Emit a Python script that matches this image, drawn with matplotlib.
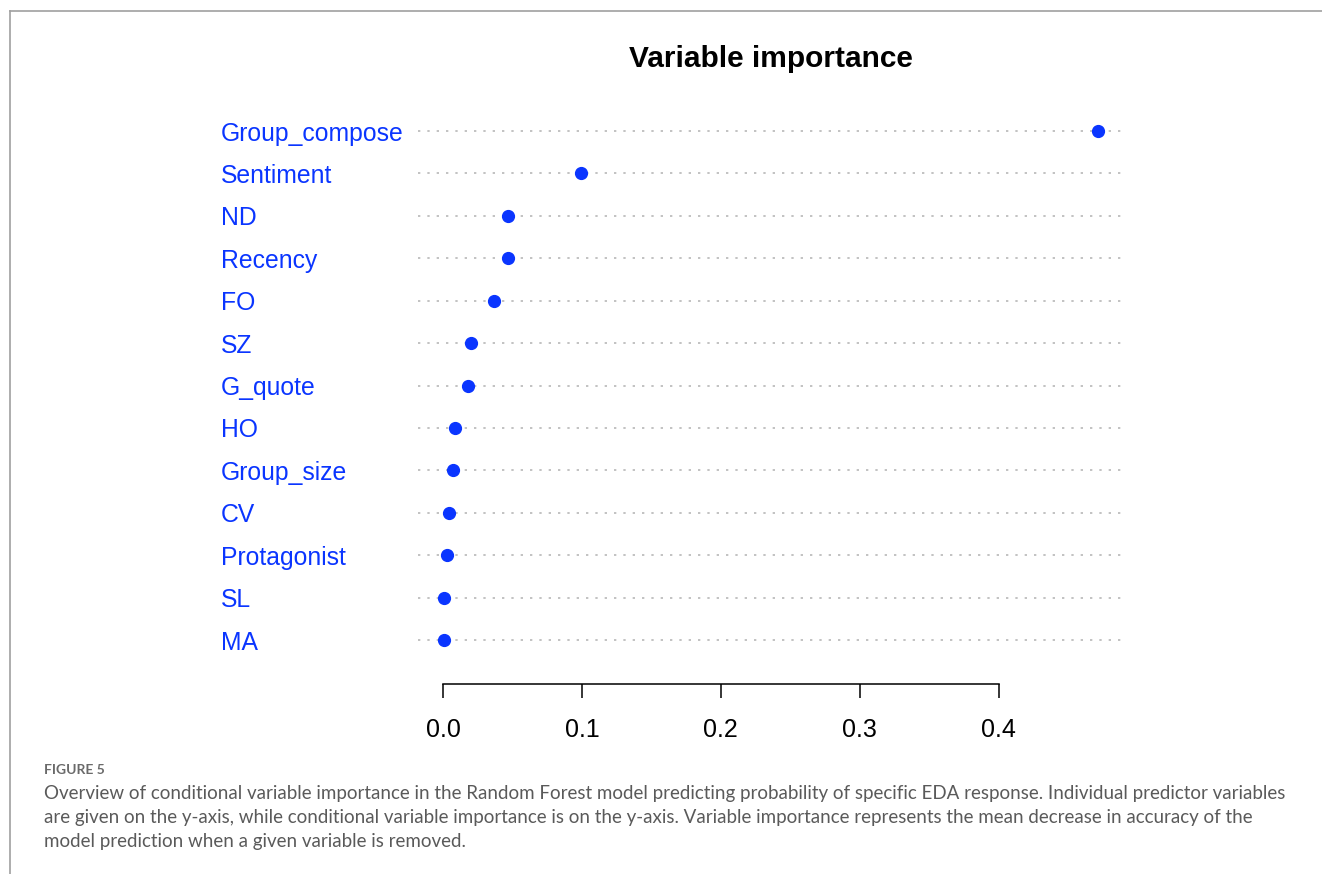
import matplotlib.pyplot as plt
import numpy as np
from matplotlib.lines import Line2D

# variables, top to bottom as in the figure
variables = ['Group_compose', 'Sentiment', 'ND', 'Recency', 'FO', 'SZ', 'G_quote',
             'HO', 'Group_size', 'CV', 'Protagonist', 'SL', 'MA']
importance = [0.4716, 0.0994, 0.0468, 0.0468, 0.0367, 0.0202, 0.0180,
              0.0086, 0.0072, 0.0043, 0.0029, 0.0007, 0.0007]
xticks = [0.0, 0.1, 0.2, 0.3, 0.4]
xticklabels = ['0.0', '0.1', '0.2', '0.3', '0.4']

caption_head = 'FIGURE 5'
caption_lines = [
    'Overview of conditional variable importance in the Random Forest model predicting probability of specific EDA response. Individual predictor variables',
    'are given on the y-axis, while conditional variable importance is on the y-axis. Variable importance represents the mean decrease in accuracy of the',
    'model prediction when a given variable is removed.',
]

W, H = 1322, 874
blue = '#0a35ff'
plt.rcParams['font.family'] = ['Liberation Sans', 'DejaVu Sans']

fig = plt.figure(figsize=(W / 100, H / 100), dpi=100)

# R dotchart style x range: data range padded by 4%
vals = np.array(importance)
rng = vals.max() - vals.min()
lo, hi = vals.min() - 0.04 * rng, vals.max() + 0.04 * rng

# pixel geometry
px_per_unit = (998.5 - 443) / 0.4
left_px = 443 + lo * px_per_unit
width_px = (hi - lo) * px_per_unit
top_px, bot_px = 88.6, 684
ax = fig.add_axes([left_px / W, 1 - bot_px / H, width_px / W, (bot_px - top_px) / H])

n = len(variables)
ys = np.arange(n, 0, -1)

ax.hlines(ys, lo, hi, colors='#b8b8b8', linewidth=1.2, linestyles=(0, (1.4, 4.2)), zorder=1)
ax.plot(importance, ys, 'o', color=blue, markersize=8.5, zorder=3)

ax.set_xlim(lo, hi)
ax.set_ylim(-0.037, n + 1)

for s in ['top', 'right', 'left']:
    ax.spines[s].set_visible(False)
ax.spines['bottom'].set_bounds(0, 0.4)
ax.spines['bottom'].set_linewidth(1.1)

ax.set_xticks(xticks)
ax.set_xticklabels(xticklabels, fontsize=18)
ax.tick_params(axis='x', direction='out', length=10, width=1.1, pad=14.5)

ax.set_yticks(ys)
ax.set_yticklabels(variables, fontsize=17.8, color=blue, ha='left')
ax.tick_params(axis='y', length=0, pad=(left_px - 221) * 0.72)

fig.text((left_px + width_px / 2) / W, 1 - 59 / H, 'Variable importance',
         ha='center', va='center', fontsize=21.5, fontweight='bold')

# page frame lines
fig.add_artist(Line2D([10 / W, 1], [1 - 11 / H, 1 - 11 / H], color='#a0a0a0', linewidth=1.2))
fig.add_artist(Line2D([10 / W, 10 / W], [0, 1 - 11 / H], color='#a0a0a0', linewidth=1.2))

# caption
fig.text(44 / W, 1 - 770 / H, caption_head, ha='left', va='center', fontsize=10,
         fontweight='bold', color='#6a6a6a', family='Lato')
for i, line in enumerate(caption_lines):
    fig.text(44 / W, 1 - (793 + 24.5 * i) / H, line, ha='left', va='center', fontsize=13.5,
             color='#5a5a5a', family='Lato')

fig.savefig('out.png', dpi=100)
